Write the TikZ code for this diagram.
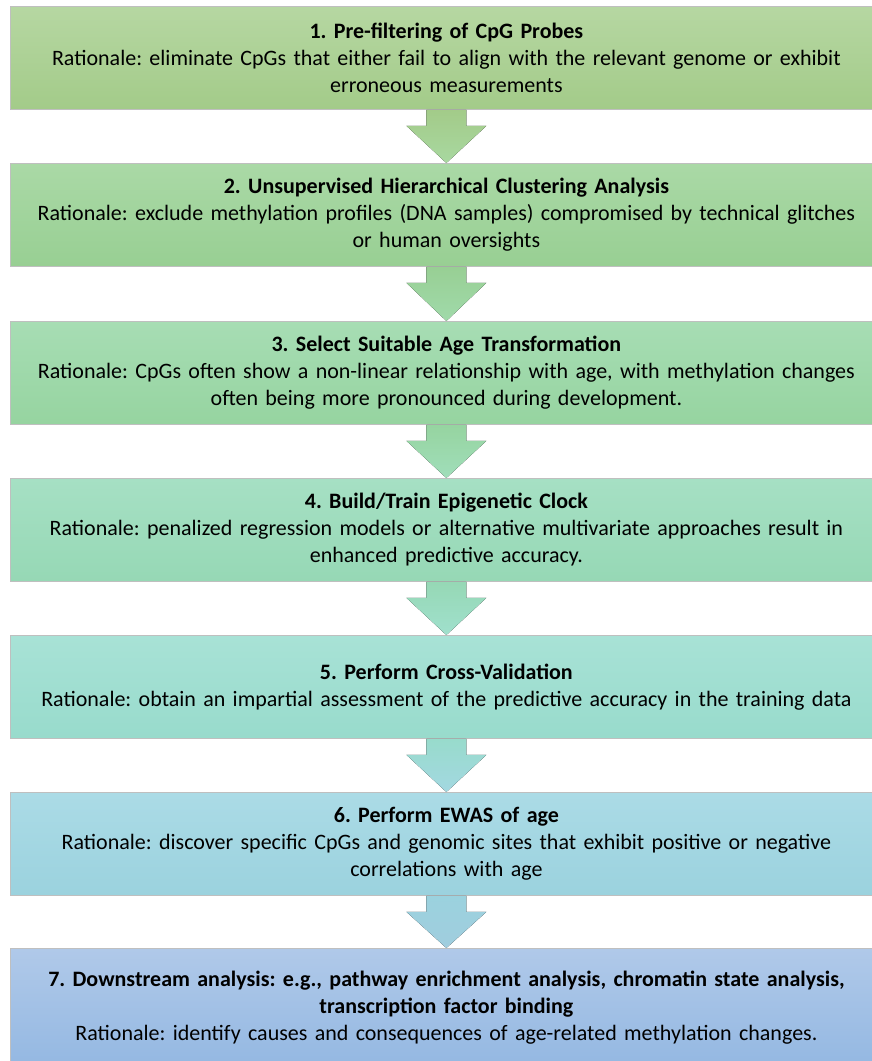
\documentclass[tikz,border=0pt]{standalone}
\usepackage{fontspec}
\setmainfont{Carlito}
\usetikzlibrary{calc}
\frenchspacing
\begin{document}
\begin{tikzpicture}[x=1pt,y=-1pt,
  stepbox/.style={draw=black!25, line width=0.8pt, minimum width=872pt, minimum height=103pt,
    text width=866pt, align=center, inner sep=0pt,
    font=\fontsize{22}{27}\selectfont, anchor=north west}]
\useasboundingbox (0,0) rectangle (872,1061);
\begin{scope}
\clip (0,0) rectangle (872,1061);
% process steps, top to bottom
\node[stepbox, top color={rgb,255:red,182;green,215;blue,162}, bottom color={rgb,255:red,163;green,203;blue,137}] (b1) at (10,6)
  {\textbf{1. Pre-filtering of CpG Probes}\\Rationale: eliminate CpGs that either fail to align with the relevant genome or exhibit\\erroneous measurements};
\node[stepbox, top color={rgb,255:red,170;green,217;blue,166}, bottom color={rgb,255:red,152;green,207;blue,147}] (b2) at (10,163)
  {\textbf{2. Unsupervised Hierarchical Clustering Analysis}\\Rationale: exclude methylation profiles (DNA samples) compromised by technical glitches\\or human oversights};
\node[stepbox, top color={rgb,255:red,167;green,221;blue,180}, bottom color={rgb,255:red,150;green,212;blue,160}] (b3) at (10,321)
  {\textbf{3. Select Suitable Age Transformation}\\Rationale: CpGs often show a non-linear relationship with age, with methylation changes\\often being more pronounced during development.};
\node[stepbox, top color={rgb,255:red,166;green,224;blue,196}, bottom color={rgb,255:red,150;green,216;blue,181}] (b4) at (10,478)
  {\textbf{4. Build/Train Epigenetic Clock}\\Rationale: penalized regression models or alternative multivariate approaches result in\\enhanced predictive accuracy.};
\node[stepbox, top color={rgb,255:red,168;green,226;blue,214}, bottom color={rgb,255:red,152;green,219;blue,204}] (b5) at (10,635)
  {\textbf{5. Perform Cross-Validation}\\Rationale: obtain an impartial assessment of the predictive accuracy in the training data};
\node[stepbox, top color={rgb,255:red,171;green,219;blue,230}, bottom color={rgb,255:red,155;green,210;blue,222}] (b6) at (10,792)
  {\textbf{6. Perform EWAS of age}\\Rationale: discover specific CpGs and genomic sites that exhibit positive or negative\\correlations with age};
\node[stepbox, minimum height=118pt, top color={rgb,255:red,176;green,201;blue,233}, bottom color={rgb,255:red,148;green,184;blue,226}] (b7) at (10,948)
  {\textbf{7. Downstream analysis: e.g., pathway enrichment analysis, chromatin state analysis,}\\\textbf{transcription factor binding}\\Rationale: identify causes and consequences of age-related methylation changes.};
% block arrows between consecutive steps
\foreach \a/\b/\ct/\cb in {
  b1/b2/{163,203,137}/{168,216,160},
  b2/b3/{152,207,148}/{160,218,170},
  b3/b4/{150,212,160}/{160,222,186},
  b4/b5/{150,216,181}/{160,224,205},
  b5/b6/{152,219,204}/{163,216,225},
  b6/b7/{155,210,222}/{160,205,222}} {
  \definecolor{arrtop}{RGB}{\ct}
  \definecolor{arrbot}{RGB}{\cb}
  \fill[top color=arrtop, bottom color=arrbot]
    ($(\a.south)+(-20,0)$) -- ($(\a.south)+(20,0)$) -- ($(\a.south)+(20,16)$) -- ($(\a.south)+(40,16)$)
    -- (\b.north) -- ($(\a.south)+(-40,16)$) -- ($(\a.south)+(-20,16)$) -- cycle;
}
\end{scope}
\end{tikzpicture}
\end{document}
